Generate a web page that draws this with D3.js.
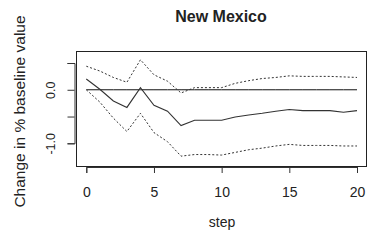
<!DOCTYPE html>
<html>
<head>
<meta charset="utf-8">
<script src="https://cdn.jsdelivr.net/npm/d3@7"></script>
<style>
body { margin: 0; background: #fff; }
text { font-family: "Liberation Sans", Arial, sans-serif; fill: #222; }
</style>
</head>
<body>
<div id="chart"></div>
<script>
// Impulse response data
var steps = d3.range(0, 21);
var response = [0.20, 0.01, -0.21, -0.33, 0.04, -0.29, -0.40, -0.67, -0.57, -0.57, -0.57,
	-0.51, -0.47, -0.44, -0.40, -0.37, -0.39, -0.39, -0.39, -0.42, -0.39];
var upperBand = [0.44, 0.35, 0.23, 0.14, 0.56, 0.28, 0.16, -0.06, 0.04, 0.04, 0.04,
	0.12, 0.17, 0.21, 0.23, 0.26, 0.25, 0.25, 0.25, 0.24, 0.23];
var lowerBand = [0.00, -0.23, -0.53, -0.78, -0.44, -0.80, -0.97, -1.24, -1.21, -1.21, -1.22,
	-1.17, -1.12, -1.09, -1.05, -1.02, -1.04, -1.04, -1.04, -1.05, -1.05];
var xTicks = [0, 5, 10, 15, 20];
var yTicks = [-1, -0.5, 0, 0.5];
var yTickLabels = {"-1": "-1.0", "0": "0.0"};

var width = 368, height = 240;
var box = {left: 76, right: 367, top: 51, bottom: 166};

var svg = d3.select("#chart").append("svg")
	.attr("width", width)
	.attr("height", height);

var x = d3.scaleLinear()
	.domain([0, 20])
	.range([86.3, 357]);

var y = d3.scaleLinear()
	.domain([-1, 0.5])
	.range([143.3, 63]);

// Plot frame
svg.append("rect")
	.attr("x", box.left + 0.5)
	.attr("y", box.top + 0.5)
	.attr("width", box.right - box.left - 1)
	.attr("height", box.bottom - box.top)
	.attr("fill", "none")
	.attr("stroke", "#222")
	.attr("stroke-width", 1);

// Axes
var xAxis = d3.axisBottom(x).tickValues(xTicks).tickSize(6)
	.tickFormat(d3.format("d"));
var gx = svg.append("g")
	.attr("transform", "translate(0," + (box.bottom + 1) + ")")
	.call(xAxis);
gx.select(".domain").attr("stroke", "#333");
gx.selectAll(".tick line").attr("stroke", "#333");
gx.selectAll("text")
	.style("font-size", "14px")
	.style("font-family", "'Liberation Sans', Arial, sans-serif")
	.attr("fill", "#222")
	.attr("y", 30).attr("dy", 0);

var yAxis = d3.axisLeft(y).tickValues(yTicks).tickSize(7)
	.tickFormat(function(d) { return yTickLabels[d] || ""; });
var gy = svg.append("g")
	.attr("transform", "translate(" + (box.left - 1.5) + ",0)")
	.call(yAxis);
gy.select(".domain").attr("stroke", "#333");
gy.selectAll(".tick line").attr("stroke", "#333");
gy.selectAll(".tick text")
	.style("font-size", "12.5px")
	.style("font-family", "'Liberation Sans', Arial, sans-serif")
	.attr("fill", "#222")
	.attr("x", 0).attr("dy", 0)
	.attr("text-anchor", "middle")
	.attr("transform", "translate(-19.5,0) rotate(-90)");

// Lines
var line = d3.line()
	.x(function(d, i) { return x(steps[i]); })
	.y(function(d) { return y(d); });

svg.append("path")
	.datum(steps.map(function() { return 0; }))
	.attr("d", line)
	.attr("fill", "none")
	.attr("stroke", "#111")
	.attr("stroke-width", 1);

[upperBand, lowerBand].forEach(function(band) {
	svg.append("path")
		.datum(band)
		.attr("d", line)
		.attr("fill", "none")
		.attr("stroke", "#333")
		.attr("stroke-width", 1)
		.attr("stroke-dasharray", "2,2");
});

svg.append("path")
	.datum(response)
	.attr("d", line)
	.attr("fill", "none")
	.attr("stroke", "#333")
	.attr("stroke-width", 1.1);

// Titles
svg.append("text")
	.attr("x", 221)
	.attr("y", 22)
	.attr("text-anchor", "middle")
	.style("font-size", "16px")
	.style("font-weight", "bold")
	.text("New Mexico");

svg.append("text")
	.attr("x", 222)
	.attr("y", 227)
	.attr("text-anchor", "middle")
	.style("font-size", "14px")
	.text("step");

svg.append("text")
	.attr("transform", "translate(25,111.5) rotate(-90)")
	.attr("text-anchor", "middle")
	.style("font-size", "15.5px")
	.text("Change in % baseline value");
</script>
</body>
</html>
